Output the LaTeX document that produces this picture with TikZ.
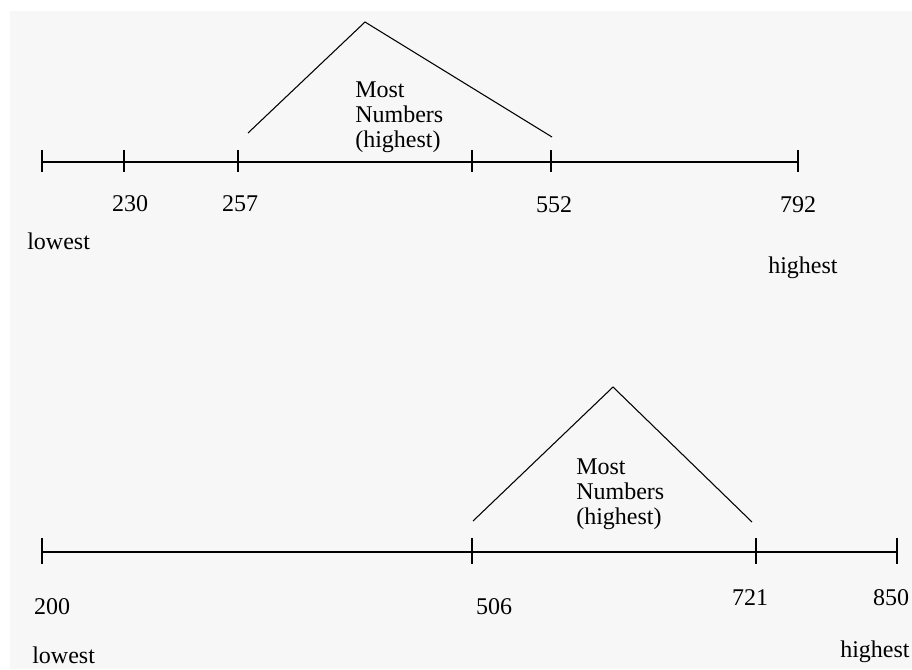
\documentclass[tikz,border=0pt]{standalone}
\usepackage{fontspec}
\setmainfont{Liberation Serif}
\definecolor{paper}{RGB}{247,247,247}
\begin{document}
\begin{tikzpicture}[x=0.75pt, y=-0.75pt,
    lbl/.style={font=\fontsize{18}{18.5}\selectfont, inner sep=0pt, anchor=base},
    hump/.style={font=\fontsize{18}{18.5}\selectfont, inner sep=0pt, align=left, anchor=north west},
    axis/.style={line width=1.3pt},
    tk/.style={line width=1.1pt},
    peak/.style={line width=0.8pt}]

  \useasboundingbox (0,0) rectangle (912,669);
  \fill[white] (0,0) rectangle (912,669);
  \fill[paper] (10,11) rectangle (912,669);

  % upper number line
  \foreach \x/\n in {42/a0, 124/a1, 238/a2, 472/a3, 551/a4, 798/a5}
    \coordinate (\n) at (\x,162);
  \draw[axis] (a0) -- (a5);
  \foreach \n in {a0,a1,a2,a3,a4,a5}
    \draw[tk] (\n) ++(0,-12) -- ++(0,22);

  \coordinate (p0) at (248,133);
  \coordinate (p1) at (365,22);
  \coordinate (p2) at (552,137);
  \draw[peak] (p0) -- (p1) -- (p2);
  \node[hump] (most1) at (355,82) {Most\\Numbers\\(highest)};

  \node[lbl] (v230) at (130,211) {230};
  \node[lbl] (v257) at (240,211) {257};
  \node[lbl] (v552) at (554,212) {552};
  \node[lbl] (v792) at (798,212) {792};
  \node[lbl, anchor=base west] (low1) at (27,249) {lowest};
  \node[lbl, anchor=base west] (high1) at (768,273) {highest};

  % lower number line
  \foreach \x/\n in {42/b0, 472/b1, 756/b2, 897/b3}
    \coordinate (\n) at (\x,552);
  \draw[axis] (b0) -- (b3);
  \foreach \n in {b0,b1,b2,b3}
    \draw[tk] (\n) ++(0,-14) -- ++(0,26);

  \coordinate (q0) at (473,521);
  \coordinate (q1) at (613,387);
  \coordinate (q2) at (752,522);
  \draw[peak] (q0) -- (q1) -- (q2);
  \node[hump] (most2) at (576,459) {Most\\Numbers\\(highest)};

  \node[lbl] (v200) at (52,614) {200};
  \node[lbl] (v506) at (494,614) {506};
  \node[lbl] (v721) at (750,605) {721};
  \node[lbl] (v850) at (891,605) {850};
  \node[lbl, anchor=base west] (low2) at (32,663) {lowest};
  \node[lbl, anchor=base west] (high2) at (840,657) {highest};

\end{tikzpicture}
\end{document}
